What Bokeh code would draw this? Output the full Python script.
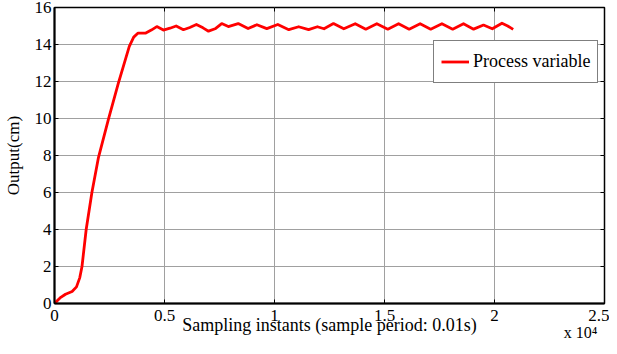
from bokeh.plotting import figure
from bokeh.models import FixedTicker, Legend, LegendItem, Range1d, LinearAxis
from bokeh.embed import file_html
from bokeh.resources import INLINE

# ---- data ----
sample = [0, 250, 500, 800, 1000, 1150, 1250, 1440, 1700, 2000, 2450, 2900, 3400,
          3600, 3800, 4150, 4400, 4650, 4950, 5250, 5530, 5860, 6150, 6450, 6750,
          7000, 7300, 7600, 7900, 8350, 8800, 9200, 9650, 10150, 10650, 11100,
          11550, 11950, 12250, 12680, 13150, 13670, 14150, 14650, 15150, 15640,
          16120, 16620, 17100, 17610, 18100, 18590, 19050, 19500, 19900, 20340,
          20600, 20850]
output = [0.0, 0.3, 0.5, 0.65, 0.9, 1.4, 2.0, 4.0, 6.0, 7.9, 9.95, 11.9, 13.9,
          14.4, 14.62, 14.62, 14.78, 14.97, 14.78, 14.88, 15.0, 14.8, 14.92, 15.08, 14.9,
          14.72, 14.85, 15.13, 14.97, 15.13, 14.86, 15.07, 14.86, 15.08, 14.8, 14.96,
          14.8, 14.96, 14.85, 15.13, 14.85, 15.12, 14.83, 15.12, 14.83, 15.12,
          14.83, 15.12, 14.83, 15.12, 14.83, 15.12, 14.83, 15.05, 14.85, 15.15,
          15.0, 14.82]

x_ticks = [0, 5000, 10000, 15000, 20000, 25000]
x_tick_labels = ["0", "0.5", "1", "1.5", "2", "2.5"]
y_ticks = [0, 2, 4, 6, 8, 10, 12, 14, 16]
x_multiplier = "x 10\u2074"

SERIF = "Liberation Serif"
X_MAX, Y_MAX = 25000, 16
FW, FH = 550, 296

p = figure(width=601, height=338, output_backend="svg", toolbar_location=None,
           x_range=Range1d(0, X_MAX), y_range=Range1d(0, Y_MAX),
           frame_width=FW, frame_height=FH,
           min_border_left=46, min_border_right=5, min_border_top=0, min_border_bottom=35)
# a tiny blank title gives the top margin above the frame
p.title.text = "\u00a0"
p.title.text_font_size = "2px"
p.title.standoff = 3
p.title.visible = True
p.background_fill_color = "white"
p.border_fill_color = "white"
p.outline_line_color = "black"
p.outline_line_width = 1.5

# grid
for g in (p.xgrid[0], p.ygrid[0]):
    g.grid_line_color = "#a0a0a0"
    g.grid_line_width = 1
    g.grid_line_alpha = 1
p.xgrid[0].ticker = FixedTicker(ticks=x_ticks)
p.ygrid[0].ticker = FixedTicker(ticks=y_ticks)

# mirrored (box) ticks on top and right, derived from the tick lists
tick_len_px = 4
dy = tick_len_px * Y_MAX / FH
dx = tick_len_px * X_MAX / FW
p.segment(x0=x_ticks, y0=[Y_MAX] * len(x_ticks), x1=x_ticks, y1=[Y_MAX - dy] * len(x_ticks),
          line_color="black", line_width=1)
p.segment(x0=[X_MAX] * len(y_ticks), y0=y_ticks, x1=[X_MAX - dx] * len(y_ticks), y1=y_ticks,
          line_color="black", line_width=1)

line = p.line(sample, output, line_color="#ff0000", line_width=2.8, line_join="round")

# axes
xa = p.xaxis[0]
xa.ticker = FixedTicker(ticks=x_ticks)
xa.major_label_overrides = {t: l for t, l in zip(x_ticks, x_tick_labels)}
xa.axis_label = "Sampling instants (sample period: 0.01s)"
ya = p.yaxis[0]
ya.ticker = FixedTicker(ticks=y_ticks)
ya.axis_label = "Output(cm)"
for ax in (xa, ya):
    ax.axis_line_color = "black"
    ax.axis_line_width = 2
    ax.major_tick_in = 4
    ax.major_tick_out = 0
    ax.minor_tick_line_color = None
    ax.major_tick_line_color = "black"
    ax.major_label_text_font = SERIF
    ax.major_label_text_font_size = "17px"
    ax.major_label_text_color = "black"
    ax.axis_label_text_font = SERIF
    ax.axis_label_text_font_style = "normal"
    ax.axis_label_text_color = "black"
xa.axis_label_text_font_size = "18px"
ya.axis_label_text_font_size = "17px"
xa.major_label_standoff = 6
xa.axis_label_standoff = -9
ya.major_label_standoff = 3
ya.axis_label_standoff = 9

# multiplier text as the label of a second bottom axis
pad = "\u00a0" * 12
mult = LinearAxis(ticker=FixedTicker(ticks=[]), axis_line_color=None,
                  major_tick_line_color=None, minor_tick_line_color=None,
                  axis_label=x_multiplier + pad, axis_label_text_font=SERIF,
                  axis_label_text_font_size="16px", axis_label_text_font_style="normal",
                  axis_label_text_color="black", axis_label_standoff=-14)
try:
    mult.axis_label_align = "end"
except Exception:
    pass
p.add_layout(mult, "below")

# legend
legend = Legend(items=[LegendItem(label="Process variable", renderers=[line])],
                location=(379, 220), orientation="vertical")
legend.label_text_font = SERIF
legend.label_text_font_size = "18px"
legend.label_text_color = "black"
legend.border_line_color = "black"
legend.border_line_width = 1.5
legend.background_fill_color = "white"
legend.background_fill_alpha = 1
legend.padding = 7
legend.margin = 0
legend.glyph_width = 28
legend.glyph_height = 27
legend.label_standoff = 4
legend.label_height = 27
p.add_layout(legend, "center")

open("out.html", "w").write(file_html(p, INLINE))
